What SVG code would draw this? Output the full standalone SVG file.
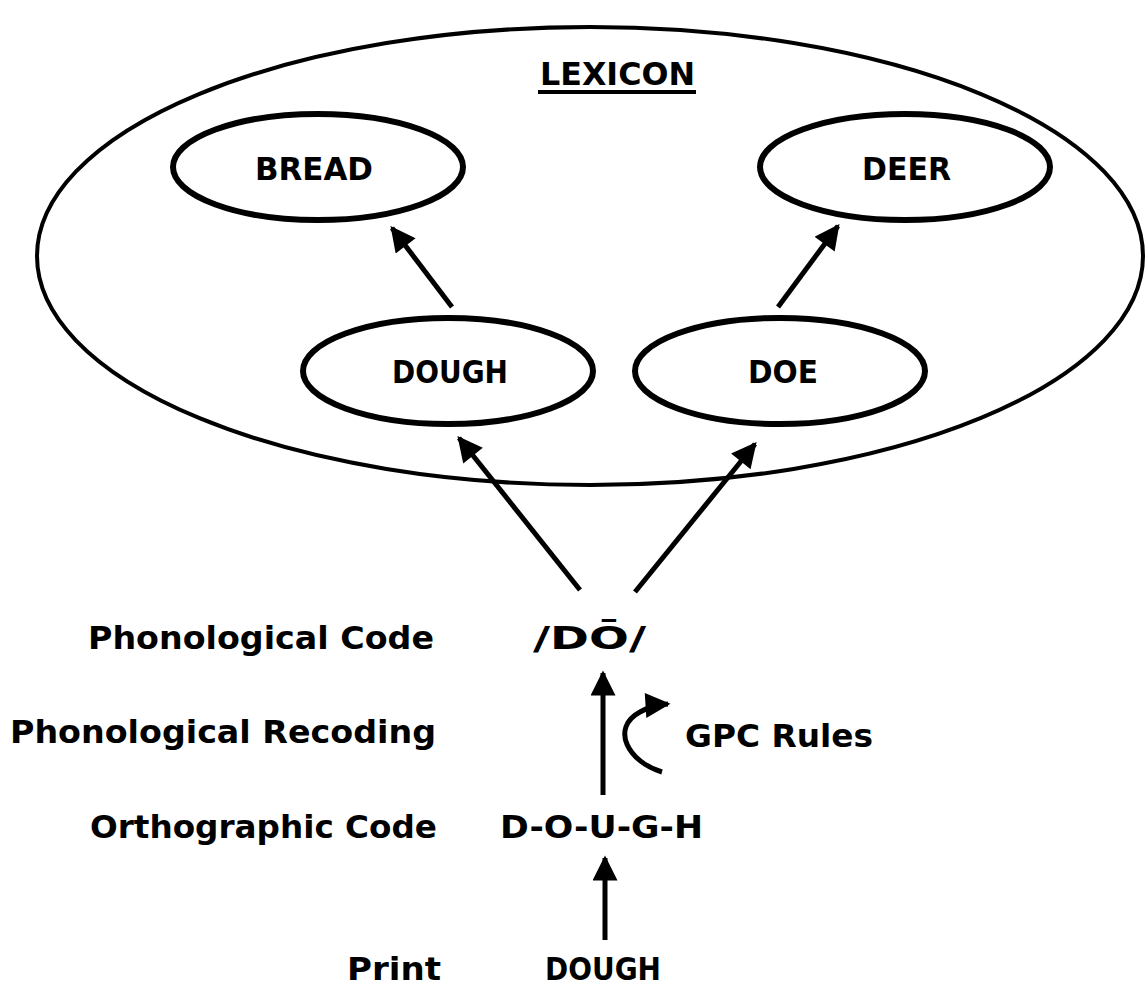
<svg xmlns="http://www.w3.org/2000/svg" width="1148" height="993" viewBox="0 0 1148 993">
<style>
text{font-family:"DejaVu Sans","Liberation Sans",sans-serif;font-weight:bold;fill:#000;font-size:32px}
.node{fill:none;stroke:#000;stroke-width:6}
.c{fill:none;stroke:#000;stroke-width:5}
</style>
<defs>
<marker id="ah" viewBox="0 0 10 10" refX="9" refY="5" markerWidth="5.5" markerHeight="5" markerUnits="strokeWidth" orient="auto">
<path d="M0,0 L10,5 L0,10 z" fill="#000"/>
</marker>
</defs>
<g id="lexicon">
<ellipse cx="590" cy="256" rx="553" ry="229" fill="none" stroke="#000" stroke-width="4"/>
<text x="540" y="85" textLength="155" lengthAdjust="spacingAndGlyphs">LEXICON</text>
<line x1="538" y1="92" x2="696" y2="92" stroke="#000" stroke-width="4"/>
</g>
<g id="bread"><ellipse class="node" cx="318" cy="167" rx="145" ry="53"/><text x="255" y="180" textLength="118" lengthAdjust="spacingAndGlyphs">BREAD</text></g>
<g id="deer"><ellipse class="node" cx="905" cy="167" rx="145" ry="53"/><text x="862" y="180" textLength="89" lengthAdjust="spacingAndGlyphs">DEER</text></g>
<g id="dough"><ellipse class="node" cx="448" cy="371" rx="145" ry="53"/><text x="392" y="383" textLength="116" lengthAdjust="spacingAndGlyphs">DOUGH</text></g>
<g id="doe"><ellipse class="node" cx="780" cy="371" rx="145" ry="53"/><text x="748" y="383" textLength="70" lengthAdjust="spacingAndGlyphs">DOE</text></g>
<g id="labels">
<text x="88" y="649" textLength="346" lengthAdjust="spacingAndGlyphs">Phonological Code</text>
<text x="10" y="743" textLength="426" lengthAdjust="spacingAndGlyphs">Phonological Recoding</text>
<text x="90" y="838" textLength="347" lengthAdjust="spacingAndGlyphs">Orthographic Code</text>
<text x="347" y="980" textLength="94" lengthAdjust="spacingAndGlyphs">Print</text>
</g>
<g id="phon"><text x="533" y="649" textLength="113" lengthAdjust="spacingAndGlyphs">/DŌ/</text></g>
<g id="orth"><text x="500" y="838" textLength="203" lengthAdjust="spacingAndGlyphs">D-O-U-G-H</text></g>
<g id="print"><text x="545" y="980" textLength="116" lengthAdjust="spacingAndGlyphs">DOUGH</text></g>
<g id="gpc"><text x="685" y="747" textLength="188" lengthAdjust="spacingAndGlyphs">GPC Rules</text></g>
<g id="connectors">
<line class="c" x1="452" y1="307" x2="392" y2="228" marker-end="url(#ah)"/>
<line class="c" x1="778" y1="307" x2="838" y2="226" marker-end="url(#ah)"/>
<line class="c" x1="580" y1="590" x2="459" y2="438" marker-end="url(#ah)"/>
<line class="c" x1="635" y1="592" x2="755" y2="444" marker-end="url(#ah)"/>
<line class="c" x1="603" y1="795" x2="603" y2="673" marker-end="url(#ah)"/>
<line class="c" x1="605" y1="940" x2="605" y2="858" marker-end="url(#ah)"/>
<path class="c" d="M662,772 C628,762 610,728 640,712 Q652,705 668,704" marker-end="url(#ah)"/>
</g>
</svg>
